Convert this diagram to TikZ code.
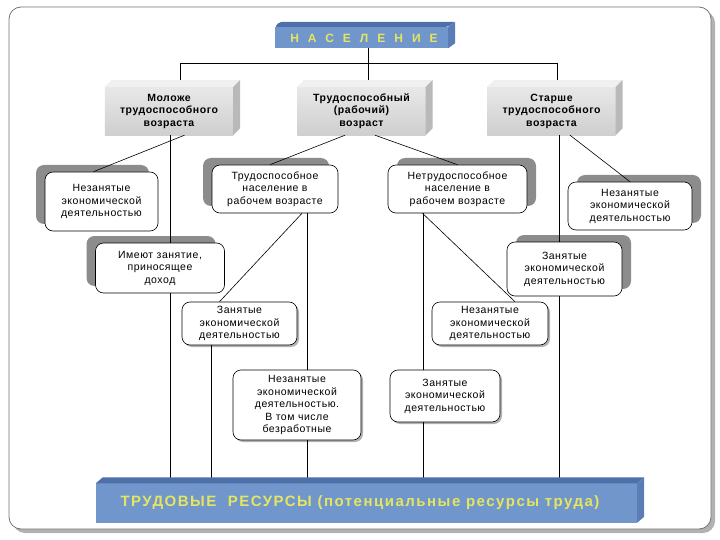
\documentclass[tikz,border=0pt]{standalone}
\usepackage{fontspec}
\setmainfont{Liberation Sans}
\newfontfamily\boxfont[LetterSpace=5]{Liberation Sans}
\newfontfamily\hdrfont[LetterSpace=75]{Liberation Sans}
\newfontfamily\banfont[LetterSpace=10]{Liberation Sans}
\usetikzlibrary{shadows,calc}
\definecolor{hdrblue}{HTML}{7096CC}
\definecolor{hdrtop}{HTML}{4E70A8}
\definecolor{hdrside}{HTML}{5A7DB8}
\definecolor{hdrtext}{HTML}{E4E660}
\begin{document}
\begin{tikzpicture}[x=1pt,y=-1pt,
  rbox/.style={draw=black, line width=0.6pt, fill=white, rounded corners=8pt,
    align=center, font=\boxfont\fontsize{10.5}{12.5}\selectfont, inner sep=0pt},
  lshadow/.style={drop shadow={shadow xshift=-9pt, shadow yshift=7pt, opacity=1, fill=black!45}},
  rshadow/.style={drop shadow={shadow xshift=9pt, shadow yshift=7pt, opacity=1, fill=black!45}},
  sshadow/.style={drop shadow={shadow xshift=2pt, shadow yshift=-2pt, opacity=0.3, fill=black}},
  conn/.style={draw=black, line width=0.6pt},
  gnode/.style={minimum width=135pt, minimum height=55pt, inner sep=0pt},
  gtext/.style={align=center, font=\boxfont\bfseries\fontsize{10.5}{12.5}\selectfont, inner sep=0pt},
  gfront/.style={top color=gray!18, bottom color=gray!38},
  gtop/.style={fill=gray!12},
  gside/.style={fill=gray!55}
]
\useasboundingbox (0,0) rectangle (720,540);
\fill[white] (0,0) rectangle (720,540);
% outer frame
\fill[black!30, rounded corners=12pt] (13,11) rectangle (715,533);
\draw[black!55, fill=white, line width=0.8pt, rounded corners=12pt] (9,7) rectangle (711,529);

% ---------- header ----------
\node[minimum width=180pt, minimum height=26pt, inner sep=0pt] (nas) at (365,35) {};
\fill[hdrblue] ($(nas.south west)$) rectangle ($(nas.north east)+(-7,5)$);
\fill[hdrtop, rounded corners=2pt] ($(nas.north west)+(0,5)$) -- ($(nas.north west)+(5,0)$) -- (nas.north east) -- ($(nas.north east)+(-7,5)$) -- cycle;
\fill[hdrside] ($(nas.north east)+(-7,5)$) -- (nas.north east) -- ($(nas.south east)+(0,-5)$) -- ($(nas.south east)+(-7,0)$) -- cycle;
\node[font=\hdrfont\bfseries\fontsize{12}{14}\selectfont, text=hdrtext, inner sep=0pt] (nastext) at ($(nas.center)+(-1,3)$) {НАСЕЛЕНИЕ};

% ---------- gray 3D boxes ----------
\foreach \n/\cx in {mol/172.5, trv/365, star/555}{
  \node[gnode] (\n) at (\cx,107.5) {};
  \fill[gfront] (\n.south west) rectangle ($(\n.north east)+(-7,7)$);
  \fill[gtop] ($(\n.north west)+(0,7)$) -- ($(\n.north west)+(7,0)$) -- (\n.north east) -- ($(\n.north east)+(-7,7)$) -- cycle;
  \fill[gside] ($(\n.north east)+(-7,7)$) -- (\n.north east) -- ($(\n.south east)+(0,-7)$) -- ($(\n.south east)+(-7,0)$) -- cycle;
}
\node[gtext] (molt) at ($(mol.center)+(-3.5,3.5)$) {Моложе\\трудоспособного\\возраста};
\node[gtext] (trvt) at ($(trv.center)+(-3.5,3.5)$) {Трудоспособный\\(рабочий)\\возраст};
\node[gtext] (start) at ($(star.center)+(-3.5,3.5)$) {Старше\\трудоспособного\\возраста};

% ---------- banner frame node ----------
\node[minimum width=548pt, minimum height=45pt, inner sep=0pt] (ban) at (370,500) {};
\coordinate (banT) at ($(ban.north west)+(0,6)$);

% ---------- connectors ----------
\coordinate (hL) at (180,63);
\coordinate (hR) at (557,63);
\coordinate (hM) at (368,63);
\draw[conn] (nas.south -| hM) -- (hM);
\draw[conn] (hL) -- (hR);
\draw[conn] (hL) -- (hL |- mol.north);
\draw[conn] (hM) -- (hM |- trv.north);
\draw[conn] (hR) -- (hR |- star.north);

\node[rbox, lshadow, minimum width=113pt, minimum height=59pt] (nezL) at (101.5,201.5) {Незанятые\\экономической\\деятельностью};
\node[rbox, lshadow, minimum width=126pt, minimum height=48pt] (trud) at (275,189) {Трудоспособное\\население в\\рабочем возрасте};
\node[rbox, rshadow, minimum width=139pt, minimum height=48pt] (netr) at (457.5,189) {Нетрудоспособное\\население в\\рабочем возрасте};
\node[rbox, rshadow, minimum width=124pt, minimum height=48pt] (nezR) at (630,206) {Незанятые\\экономической\\деятельностью};
\node[rbox, lshadow, minimum width=129pt, minimum height=50pt] (imey) at (160,268) {Имеют занятие,\\приносящее\\доход};
\node[rbox, rshadow, minimum width=115pt, minimum height=54pt] (zanR) at (564.5,269) {Занятые\\экономической\\деятельностью};
\node[rbox, sshadow, minimum width=115pt, minimum height=43pt] (zanL) at (239.5,323.5) {Занятые\\экономической\\деятельностью};
\node[rbox, sshadow, minimum width=116pt, minimum height=43pt] (nezC) at (490,323.5) {Незанятые\\экономической\\деятельностью};
\node[rbox, sshadow, minimum width=128pt, minimum height=70pt] (nezV) at (297,405) {Незанятые\\экономической\\деятельностью.\\В том числе\\безработные};
\node[rbox, sshadow, minimum width=110pt, minimum height=52pt] (zanB) at (445,396) {Занятые\\экономической\\деятельностью};

\coordinate (vA) at (170,0);
\coordinate (vB) at (211,0);
\coordinate (vC) at (307,0);
\coordinate (vD) at (423,0);
\coordinate (vF) at (559,0);
\draw[conn] ($(mol.south)+(12,0)$) -- ($(nezL.north)+(-8,0)$);
\draw[conn] (vA |- mol.south) -- (vA |- imey.north);
\draw[conn] (vA |- imey.south) -- (vA |- banT);
\draw[conn] ($(trv.south)+(-20,0)$) -- ($(trud.north)+(-5,0)$);
\draw[conn] ($(trv.south)+(10,0)$) -- ($(netr.north)+(0,0)$);
\draw[conn] ($(star.south)+(15,0)$) -- ($(nezR.north)+(0,0)$);
\draw[conn] (vF |- star.south) -- (vF |- zanR.north);
\draw[conn] (vF |- zanR.south) -- (vF |- banT);
\draw[conn] ($(trud.south)+(27,0)$) -- ($(zanL.north)+(-20,0)$);
\draw[conn] (vC |- trud.south) -- (vC |- nezV.north);
\draw[conn] (vC |- nezV.south) -- (vC |- banT);
\draw[conn] (vB |- zanL.south) -- (vB |- banT);
\draw[conn] ($(netr.south)+(-35,0)$) -- ($(nezC.north)+(25,0)$);
\draw[conn] (vD |- netr.south) -- (vD |- zanB.north);
\draw[conn] (vD |- zanB.south) -- (vD |- banT);

% ---------- banner drawing ----------
\fill[hdrblue] (ban.south west) rectangle ($(ban.north east)+(-7,6)$);
\fill[hdrtop] (banT) -- ($(ban.north west)+(7,0)$) -- (ban.north east) -- ($(ban.north east)+(-7,6)$) -- cycle;
\fill[hdrside] ($(ban.north east)+(-7,6)$) -- (ban.north east) -- ($(ban.south east)+(0,-6)$) -- ($(ban.south east)+(-7,0)$) -- cycle;
\node[font=\banfont\bfseries\fontsize{15}{17}\selectfont, text=hdrtext, inner sep=0pt] (bantext) at ($(ban.center)+(-10,3)$) {ТРУДОВЫЕ\ \ РЕСУРСЫ (потенциальные ресурсы труда)};
\end{tikzpicture}
\end{document}
